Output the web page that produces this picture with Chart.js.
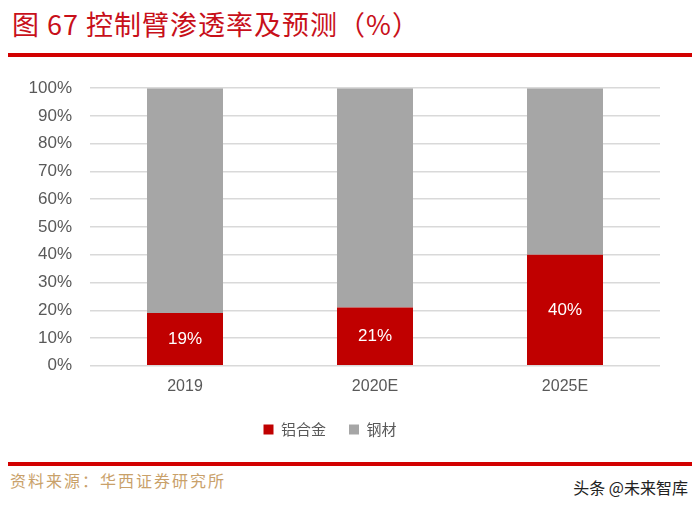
<!DOCTYPE html>
<html>
<head>
<meta charset="utf-8">
<script src="https://cdn.jsdelivr.net/npm/chart.js@4"></script>
<style>
  body { margin: 0; background: #fff; width: 700px; height: 510px; position: relative; overflow: hidden; }
  #title { position: absolute; left: 12px; top: 4px; font: 27px "Noto Sans CJK SC", sans-serif; color: #C8101A; letter-spacing: 1px; }
  .rule { position: absolute; left: 8px; width: 684px; height: 4px; background: #D20000; }
  #src { position: absolute; left: 10px; top: 468px; font: 16px "Noto Sans CJK SC", sans-serif; color: #C9A16A; letter-spacing: 2px; }
  #wm { position: absolute; right: 12px; top: 475px; font: 16px "Noto Sans CJK SC", sans-serif; color: #222; }
  #box { position: absolute; left: 0; top: 60px; width: 700px; height: 395px; }
</style>
</head>
<body>
<div id="title">图 67 控制臂渗透率及预测（%）</div>
<div class="rule" style="top:53px"></div>
<div id="box"><canvas id="main-chart"></canvas></div>
<div class="rule" style="top:462px"></div>
<div id="src">资料来源：华西证券研究所</div>
<div id="wm">头条 @未来智库</div>
<script>
const years = ["2019", "2020E", "2025E"];
const alloy = [19, 21, 40];
const steel = [81, 79, 60];
const yTicks = [0, 10, 20, 30, 40, 50, 60, 70, 80, 90, 100];

const ctx = document.getElementById("main-chart").getContext("2d");

// labels inside the red bars
const barLabels = {
  id: "barLabels",
  afterDatasetsDraw(chart) {
    const c = chart.ctx;
    const meta = chart.getDatasetMeta(0);
    c.save();
    c.fillStyle = "#ffffff";
    c.font = '17px "Liberation Sans", Arial, sans-serif';
    c.textAlign = "center";
    c.textBaseline = "middle";
    meta.data.forEach((bar, i) => {
      c.fillText(alloy[i] + "%", bar.x, (bar.y + bar.base) / 2);
    });
    c.restore();
  },
};

new Chart(ctx, {
  type: "bar",
  data: {
    labels: years,
    datasets: [
      { label: "铝合金", data: alloy, backgroundColor: "#C00000" },
      { label: "钢材", data: steel, backgroundColor: "#A6A6A6" },
    ],
  },
  options: {
    responsive: true,
    maintainAspectRatio: false,
    animation: false,
    layout: { padding: { left: 0, right: 40, top: 26, bottom: 8 } },
    datasets: { bar: { categoryPercentage: 1, barPercentage: 0.4 } },
    scales: {
      x: {
        stacked: true,
        grid: { display: false },
        border: { display: false },
        ticks: { color: "#595959", font: { family: "Liberation Sans", size: 16 }, padding: 3 },
      },
      y: {
        stacked: true,
        min: 0,
        max: 100,
        afterFit: (s) => { s.width = 90; },
        afterBuildTicks: (s) => { s.ticks = yTicks.map((v) => ({ value: v })); },
        grid: { color: "#D9D9D9", lineWidth: 1.5, drawTicks: false },
        border: { display: false },
        ticks: {
          color: "#595959",
          font: { family: "Liberation Sans", size: 17 },
          padding: 18,
          callback: (v) => v + "%",
        },
      },
    },
    plugins: {
      legend: {
        position: "bottom",
        labels: {
          boxWidth: 10,
          boxHeight: 10,
          color: "#595959",
          font: { family: "Noto Sans CJK SC", size: 15 },
          padding: 23,
        },
      },
      tooltip: { enabled: false },
    },
  },
  plugins: [barLabels],
});
</script>
</body>
</html>
